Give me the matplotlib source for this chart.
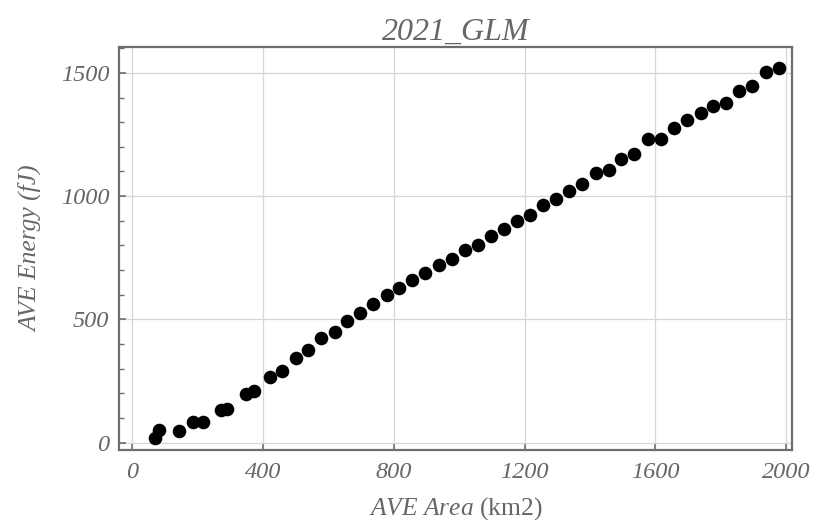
import matplotlib
matplotlib.use("Agg")
import matplotlib.pyplot as plt
from matplotlib.ticker import MultipleLocator

# average flash area vs. average energy, 2021 GLM
area_km2 = [69, 81, 143, 185, 217, 271, 291, 347, 373, 421, 457, 500, 538,
            577, 619, 657, 698, 737, 780, 817, 857, 897, 938, 979, 1017, 1056,
            1097, 1137, 1177, 1216, 1255, 1296, 1336, 1376, 1417, 1457, 1495,
            1535, 1576, 1617, 1657, 1695, 1738, 1777, 1816, 1856, 1896, 1937,
            1978]
energy_fj = [19, 51, 47, 84, 84, 133, 138, 196, 210, 268, 289, 345, 376,
             423, 450, 494, 527, 563, 599, 626, 660, 687, 721, 744, 782, 803,
             838, 866, 899, 922, 964, 987, 1022, 1049, 1094, 1107, 1151,
             1170, 1231, 1231, 1275, 1309, 1339, 1366, 1379, 1427, 1448, 1503,
             1521]

x_ticks = [0, 400, 800, 1200, 1600, 2000]
y_ticks = [0, 500, 1000, 1500]

text_color = "#666666"
frame_color = "#6e6e6e"
serif = ["Liberation Serif", "DejaVu Serif"]

# italic words with upright units inside mathtext
plt.rcParams["mathtext.fontset"] = "custom"
plt.rcParams["mathtext.rm"] = "Liberation Serif"
plt.rcParams["mathtext.it"] = "Liberation Serif:italic"

fig = plt.figure(figsize=(8.15, 5.23), dpi=100)
ax = fig.add_axes([0.146, 0.1396, 0.826, 0.771])

ax.plot(area_km2, energy_fj, "o", color="black", ms=9.8, mew=0, zorder=3)

ax.set_xlim(-40, 2018)
ax.set_ylim(-30, 1606)
ax.set_xticks(x_ticks)
ax.set_yticks(y_ticks)
ax.yaxis.set_minor_locator(MultipleLocator(100))

ax.grid(True, which="major", color="#d6d6d6", linewidth=0.9)
ax.set_axisbelow(True)

for s in ax.spines.values():
    s.set_color(frame_color)
    s.set_linewidth(1.6)

ax.tick_params(which="major", direction="in", length=5, width=1.2,
               color=frame_color, labelcolor=text_color, labelsize=17.5)
ax.tick_params(which="minor", direction="in", length=3.5, width=1.0,
               color=frame_color)
ax.tick_params(axis="x", pad=9)
ax.tick_params(axis="y", pad=7)
for lab in ax.get_xticklabels() + ax.get_yticklabels():
    lab.set_family(serif)
    lab.set_style("italic")

ax.set_title("2021_GLM", family=serif, style="italic", fontsize=23,
             color=text_color, pad=5)
ax.set_xlabel(r"$\mathit{AVE\ Area}$ (km2)", family=serif, fontsize=18.4,
              color=text_color)
ax.set_ylabel("AVE Energy (fJ)", family=serif, style="italic", fontsize=18.4,
              color=text_color)
ax.xaxis.set_label_coords(0.5, -0.112)
ax.yaxis.set_label_coords(-0.114, 0.5)

fig.savefig("out.png", dpi=100)
